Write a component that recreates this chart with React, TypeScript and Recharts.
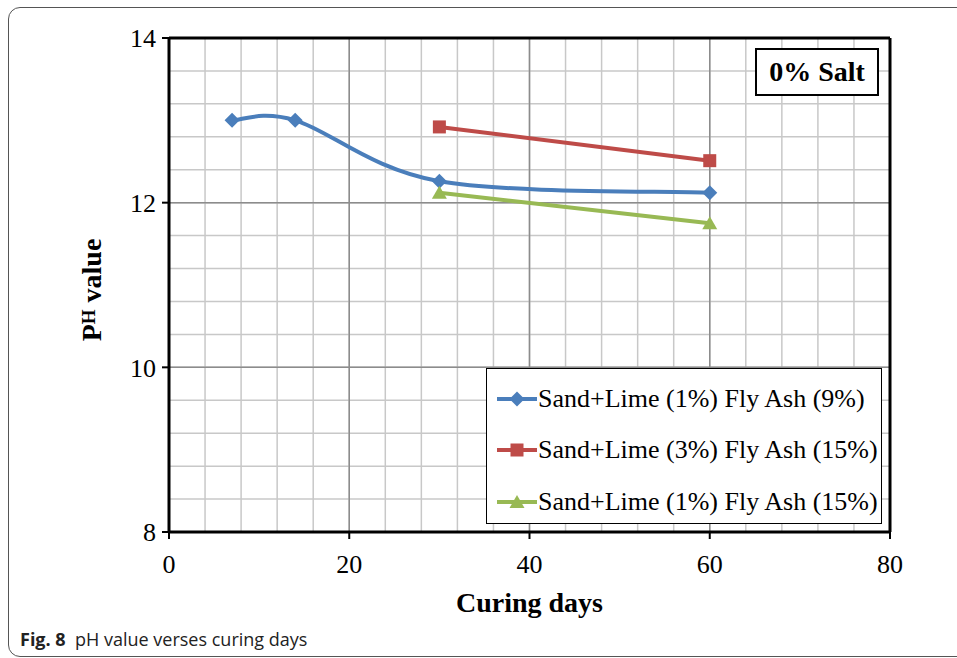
import * as React from "react";
import {
  LineChart,
  Line,
  XAxis,
  YAxis,
  CartesianGrid,
  Legend,
  ReferenceLine
} from "recharts";

// curing days and pH readings
const blueDays = [7, 14, 30, 60];
const bluePH = [13.0, 13.0, 12.26, 12.12];
const redDays = [30, 60];
const redPH = [12.92, 12.51];
const greenDays = [30, 60];
const greenPH = [12.12, 11.75];

const seriesNames = [
  "Sand+Lime (1%) Fly Ash (9%)",
  "Sand+Lime (3%) Fly Ash (15%)",
  "Sand+Lime (1%) Fly Ash (15%)"
];

const xTicks = [0, 20, 40, 60, 80];
const yTicks = [8, 10, 12, 14];
const xMinor = [0, 4, 8, 12, 16, 20, 24, 28, 32, 36, 40, 44, 48, 52, 56, 60, 64, 68, 72, 76, 80];
const yMinor = [8, 8.4, 8.8, 9.2, 9.6, 10, 10.4, 10.8, 11.2, 11.6, 12, 12.4, 12.8, 13.2, 13.6, 14];

const toRows = (days: number[], ph: number[]) => days.map((d, i) => ({ day: d, ph: ph[i] }));
const blueData = toRows(blueDays, bluePH);
const redData = toRows(redDays, redPH);
const greenData = toRows(greenDays, greenPH);

const BLUE = "#4a7ebb";
const RED = "#be4b48";
const GREEN = "#98b954";
const SERIF = "'Liberation Serif', 'Times New Roman', serif";

// Excel-style smoothed line (Catmull-Rom through the points, as bezier segments)
const excelSmooth = (context: any) => {
  let pts: number[][] = [];
  return {
    areaStart() {},
    areaEnd() {},
    lineStart() {
      pts = [];
    },
    point(x: number, y: number) {
      pts.push([+x, +y]);
    },
    lineEnd() {
      const n = pts.length;
      if (!n) return;
      context.moveTo(pts[0][0], pts[0][1]);
      for (let i = 0; i < n - 1; i++) {
        const p0 = pts[Math.max(i - 1, 0)];
        const p1 = pts[i];
        const p2 = pts[i + 1];
        const p3 = pts[Math.min(i + 2, n - 1)];
        context.bezierCurveTo(
          p1[0] + (p2[0] - p0[0]) / 6,
          p1[1] + (p2[1] - p0[1]) / 6,
          p2[0] - (p3[0] - p1[0]) / 6,
          p2[1] - (p3[1] - p1[1]) / 6,
          p2[0],
          p2[1]
        );
      }
    }
  };
};

type Shape = "diamond" | "square" | "triangle";

const marker = (shape: Shape, cx: number, cy: number, color: string, key?: React.Key) => {
  if (shape === "diamond") {
    const r = 7.5;
    return <path key={key} d={`M${cx},${cy - r}L${cx + r},${cy}L${cx},${cy + r}L${cx - r},${cy}Z`} fill={color} />;
  }
  if (shape === "square") {
    return <rect key={key} x={cx - 6.5} y={cy - 6.5} width={13} height={13} fill={color} />;
  }
  return <path key={key} d={`M${cx},${cy - 7}L${cx + 7.5},${cy + 6}L${cx - 7.5},${cy + 6}Z`} fill={color} />;
};

const dotFor = (shape: Shape, color: string) => (p: any) =>
  marker(shape, p.cx, p.cy, color, `${shape}-${p.index}`);

const legendItems: { name: string; color: string; shape: Shape }[] = [
  { name: seriesNames[0], color: BLUE, shape: "diamond" },
  { name: seriesNames[1], color: RED, shape: "square" },
  { name: seriesNames[2], color: GREEN, shape: "triangle" }
];

const LegendBox = () => (
  <div
    style={{
      border: "1.5px solid #000",
      background: "#fff",
      width: 396,
      height: 156,
      boxSizing: "border-box",
      paddingTop: 4
    }}
  >
    {legendItems.map(item => (
      <div key={item.name} style={{ display: "flex", alignItems: "center", height: 51.5 }}>
        <svg width={50} height={20} style={{ marginLeft: 8 }}>
          <line x1={2} y1={10} x2={42} y2={10} stroke={item.color} strokeWidth={4} />
          {marker(item.shape, 22, 10, item.color)}
        </svg>
        <span style={{ fontFamily: SERIF, fontSize: 26, color: "#000", marginLeft: -7, whiteSpace: "nowrap" }}>
          {item.name}
        </span>
      </div>
    ))}
  </div>
);

const App: React.FunctionComponent = () => {
  const animate: boolean = false;

  return (
    <div style={{ position: "absolute", left: 0, top: 0, width: 957, height: 658, overflow: "hidden", background: "#fff" }}>
      <div
        style={{
          position: "absolute",
          left: 8,
          top: 7,
          width: 1000,
          height: 648,
          border: "1.5px solid #555",
          borderRadius: 12
        }}
      />
      <LineChart
        width={957}
        height={658}
        margin={{ top: 38, right: 67, left: 0, bottom: 0 }}
        style={{ position: "absolute", left: 0, top: 0 }}
      >
        <CartesianGrid
          stroke="#c8c8c8"
          strokeWidth={1.5}
          horizontalValues={yMinor}
          verticalValues={xMinor}
        />
        <CartesianGrid
          stroke="#8c8c8c"
          strokeWidth={1.5}
          horizontalValues={yTicks}
          verticalValues={xTicks}
        />
        <XAxis
          dataKey="day"
          type="number"
          domain={[0, 80]}
          ticks={xTicks}
          height={126}
          axisLine={{ stroke: "#000", strokeWidth: 3 }}
          tickLine={{ stroke: "#000", strokeWidth: 2 }}
          tickSize={7}
          tickMargin={16}
          tick={{ fill: "#000", fontSize: 26, fontFamily: SERIF }}
          allowDuplicatedCategory={false}
          label={{
            value: "Curing days",
            position: "insideTop",
            offset: 60,
            fill: "#000",
            fontSize: 28,
            fontWeight: "bold",
            fontFamily: SERIF
          }}
        />
        <YAxis
          type="number"
          domain={[8, 14]}
          ticks={yTicks}
          width={169}
          axisLine={{ stroke: "#000", strokeWidth: 3 }}
          tickLine={{ stroke: "#000", strokeWidth: 2 }}
          tickSize={7}
          tickMargin={6}
          tick={{ fill: "#000", fontSize: 26, fontFamily: SERIF }}
        />
        <ReferenceLine y={14} stroke="#000" strokeWidth={3} />
        <ReferenceLine x={80} stroke="#000" strokeWidth={3} />
        <Line
          isAnimationActive={animate}
          data={blueData}
          dataKey="ph"
          name={seriesNames[0]}
          type={excelSmooth as any}
          stroke={BLUE}
          strokeWidth={4}
          dot={dotFor("diamond", BLUE)}
          activeDot={false}
        />
        <Line
          isAnimationActive={animate}
          data={redData}
          dataKey="ph"
          name={seriesNames[1]}
          type="linear"
          stroke={RED}
          strokeWidth={4}
          dot={dotFor("square", RED)}
          activeDot={false}
        />
        <Line
          isAnimationActive={animate}
          data={greenData}
          dataKey="ph"
          name={seriesNames[2]}
          type="linear"
          stroke={GREEN}
          strokeWidth={4}
          dot={dotFor("triangle", GREEN)}
          activeDot={false}
        />
        <Legend
          layout="vertical"
          align="center"
          verticalAlign="middle"
          content={() => <LegendBox />}
          wrapperStyle={{ position: "absolute", left: 486, top: 368, width: 396, height: 156 }}
        />
      </LineChart>

      <div
        style={{
          position: "absolute",
          left: 92,
          top: 290,
          transform: "translate(-50%, -50%) rotate(-90deg)",
          fontFamily: SERIF,
          fontWeight: "bold",
          fontSize: 28,
          whiteSpace: "nowrap",
          color: "#000"
        }}
      >
        P<span style={{ fontSize: 19, verticalAlign: "6px" }}>H</span> value
      </div>

      <div
        style={{
          position: "absolute",
          left: 755,
          top: 48,
          width: 124,
          height: 48,
          boxSizing: "border-box",
          border: "2.5px solid #000",
          background: "#fff",
          fontFamily: SERIF,
          fontWeight: "bold",
          fontSize: 28,
          display: "flex",
          alignItems: "center",
          justifyContent: "center",
          color: "#000"
        }}
      >
        0% Salt
      </div>

      <div
        style={{
          position: "absolute",
          left: 20,
          top: 627,
          fontFamily: "'Open Sans', 'Noto Sans', sans-serif",
          fontSize: 18,
          color: "#222",
          whiteSpace: "nowrap"
        }}
      >
        <b>Fig. 8</b>&nbsp;&nbsp;pH value verses curing days
      </div>
    </div>
  );
};

export default App;
